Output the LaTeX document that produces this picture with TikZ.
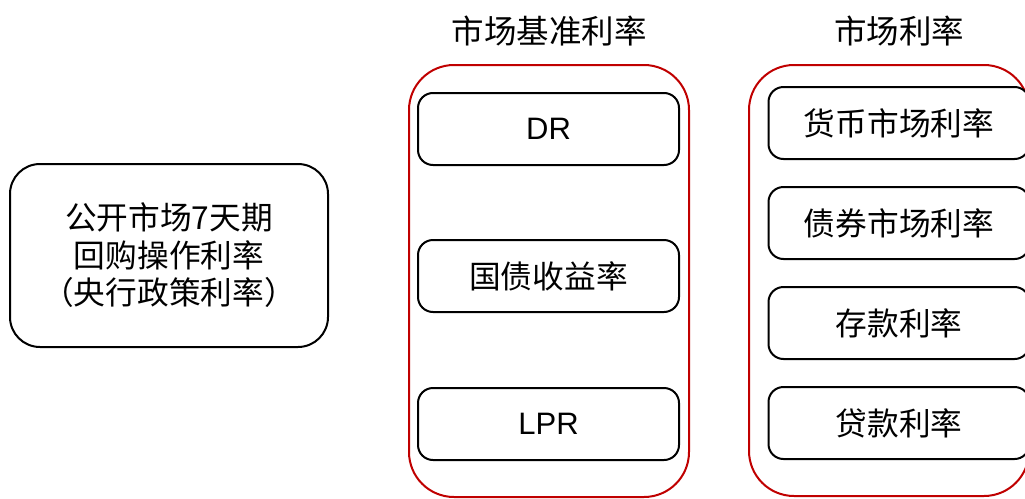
\documentclass[tikz,border=0pt]{standalone}
\usepackage{fontspec}
\setmainfont{Liberation Sans}
\newfontfamily\cjk{Noto Sans CJK SC}
\newfontfamily\cjkfw[RawFeature=+fwid]{Noto Sans CJK SC}
\definecolor{dred}{HTML}{C00000}
\tikzset{
  box/.style={draw=black, line width=2pt, rounded corners=15pt, fill=white, minimum width=261pt, minimum height=72pt, inner sep=0pt, font=\fontsize{31.7}{37.5}\selectfont\cjk, align=center},
  group/.style={draw=dred, line width=2pt, rounded corners=45pt, inner sep=0pt},
  title/.style={font=\fontsize{32.5}{37.5}\selectfont\cjk, inner sep=0pt},
}
\begin{document}
\begin{tikzpicture}[x=1pt,y=-1pt]
\clip (0,0) rectangle (1025,498);
\fill[white] (0,0) rectangle (1025,498);
\node[box, minimum width=318pt, minimum height=183pt, rounded corners=30pt] (policy) at (169,255.5) {公开市场7天期\\回购操作利率\\{\cjkfw （}央行政策利率{\cjkfw ）}};
% middle group
\node[group, minimum width=280pt, minimum height=432pt] (gmid) at (549,281) {};
\node[title] (tmid) at (549,31) {市场基准利率};
\node[box] (dr) at (548.5,129) {\fontsize{31}{37}\selectfont\rmfamily DR};
\node[box] (gz) at (548.5,276) {国债收益率};
\node[box] (lpr) at (548.5,424) {\fontsize{31}{37}\selectfont\rmfamily LPR};
% right group
\node[group, minimum width=280pt, minimum height=431pt] (gright) at (889,280.5) {};
\node[title] (tright) at (899,31) {市场利率};
\node[box] (hb) at (899,123) {货币市场利率};
\node[box] (zq) at (899,223) {债券市场利率};
\node[box] (ck) at (899,323) {存款利率};
\node[box] (dk) at (899,423) {贷款利率};
\end{tikzpicture}
\end{document}
